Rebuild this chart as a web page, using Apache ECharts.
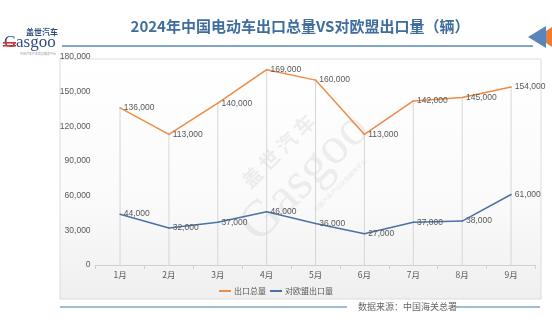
<!DOCTYPE html>
<html><head><meta charset="utf-8">
<script src="https://cdn.jsdelivr.net/npm/echarts@6/dist/echarts.min.js"></script>
<style>html,body{margin:0;padding:0;background:#fff}#c{width:552px;height:325px}</style>
</head><body><div id="c"></div>
<script>
const categories = ['1月','2月','3月','4月','5月','6月','7月','8月','9月'];
const totalExport = [136000,113000,140000,169000,160000,113000,142000,145000,154000];
const euExport = [44000,32000,37000,46000,36000,27000,37000,38000,61000];
const yTicks = [0,30000,60000,90000,120000,150000,180000];
const seriesNames = ['出口总量','对欧盟出口量'];
const titleText = '2024年中国电动车出口总量VS对欧盟出口量（辆）';
const sourceText = '数据来源：中国海关总署';

const fmt = v => v.toLocaleString('en-US');
const chart = echarts.init(document.getElementById('c'), null, {renderer:'canvas'});
const labelStyle = {show:true, position:'right', distance:3, fontSize:8.5, color:'#595959', opacity:1, fontFamily:'Liberation Sans', formatter:p=>fmt(p.value)};
chart.setOption({
  animation:false,
  backgroundColor:'#fff',
  title:{text:titleText, left:295, top:14, textAlign:'center',
    textStyle:{fontSize:15, fontWeight:'bold', color:'#3f6e9e', fontFamily:'Noto Sans CJK SC'}},
  graphic:[
    {type:'rect', z:-10, shape:{x:60,y:59,width:481,height:240},
      style:{fill:new echarts.graphic.LinearGradient(0,0,0,1,[{offset:0,color:'#ffffff'},{offset:0.6,color:'#fafafa'},{offset:1,color:'#efefef'}]), stroke:'#dcdcdc', lineWidth:1}},
    {type:'line', shape:{x1:62,y1:46,x2:533,y2:46}, style:{stroke:'#80a6c8', lineWidth:2}},
    {type:'polygon', shape:{points:[[552,27],[552,47],[537,37]]}, style:{fill:'#ee7d31'}},
    {type:'polygon', shape:{points:[[546,26],[546,48],[528,37]]}, style:{fill:'#5b84bb'}},
    {type:'line', shape:{x1:60,y1:307,x2:347,y2:307}, style:{stroke:'#80a6c8', lineWidth:1.5}},
    {type:'line', shape:{x1:455,y1:307,x2:540,y2:307}, style:{stroke:'#80a6c8', lineWidth:1.5}},
    {type:'text', left:358, top:302, style:{text:sourceText, fontSize:9, fill:'#666', fontFamily:'Noto Sans CJK SC'}},
    // logo
    {type:'text', left:26, top:28, style:{text:'盖世汽车', fontSize:8, fill:'#2f4f80', fontWeight:'bold', fontFamily:'Noto Sans CJK SC'}},
    {type:'text', left:16, top:34, style:{text:'asgoo', fontSize:17, fill:'#2f4f80', fontFamily:'Liberation Serif'}},
    {type:'text', left:4, top:34, style:{text:'G', fontSize:17, fill:'#2f4f80', fontFamily:'Liberation Serif'}},
    {type:'rect', shape:{x:3,y:42,width:13,height:1.6}, style:{fill:'#d9302c'}},
    {type:'rect', shape:{x:3,y:45,width:13,height:1.6}, style:{fill:'#d9302c'}},
    {type:'text', left:20, top:52, style:{text:'中国汽车产业信息服务平台', fontSize:3, fill:'#999', fontFamily:'Noto Sans CJK SC'}},
    // watermark
    {type:'group', x:305, y:178, rotation:Math.PI/4, z:0, children:[
      {type:'text', style:{text:'Gasgoo', x:0, y:0, align:'center', verticalAlign:'middle', fontSize:52, fill:'rgba(190,190,190,0.25)', fontFamily:'Liberation Serif'}},
      {type:'text', style:{text:'盖 世 汽 车', x:0, y:-38, align:'center', verticalAlign:'middle', fontSize:20, fontWeight:'bold', fill:'rgba(190,190,190,0.25)', fontFamily:'Noto Sans CJK SC'}},
      {type:'text', style:{text:'中国汽车产业信息服务平台', x:20, y:30, align:'center', verticalAlign:'middle', fontSize:6, fill:'rgba(190,190,190,0.3)', fontFamily:'Noto Sans CJK SC'}}
    ]}
  ],
  legend:{data:seriesNames, left:'center', top:282, itemWidth:12, itemHeight:2, itemGap:4, icon:'rect',
    textStyle:{fontSize:8, color:'#595959', fontFamily:'Noto Sans CJK SC', padding:[0,0,0,-2]}},
  grid:{left:95.6, right:16.5, top:57, bottom:60, containLabel:false},
  xAxis:{type:'category', data:categories, boundaryGap:true,
    axisLine:{lineStyle:{color:'#d0d0d0'}},
    axisTick:{show:true, length:4, lineStyle:{color:'#d0d0d0'}},
    axisLabel:{fontSize:8.5, color:'#595959', margin:6, fontFamily:'Noto Sans CJK SC'}},
  yAxis:{type:'value', min:0, max:180000, interval:30000,
    axisLine:{show:false}, axisTick:{show:false}, splitLine:{show:false},
    axisLabel:{fontSize:8.5, color:'#595959', margin:5, fontFamily:'Liberation Sans', formatter:v=>fmt(v)}},
  series:[
    {name:'drop', type:'bar', data:totalExport, barWidth:1, silent:true, z:1,
      itemStyle:{color:'#d6d6d6'}, legendHoverLink:false, tooltip:{show:false}},
    {name:seriesNames[0], type:'line', data:totalExport, showSymbol:true, symbol:'circle', symbolSize:1.5, z:3,
      lineStyle:{color:'#ee8b45', width:1.5}, itemStyle:{color:'#ee8b45'}, label:labelStyle},
    {name:seriesNames[1], type:'line', data:euExport, showSymbol:true, symbol:'circle', symbolSize:1.5, z:3,
      lineStyle:{color:'#4c70a8', width:1.5}, itemStyle:{color:'#4c70a8'}, label:labelStyle}
  ]
});
</script></body></html>
